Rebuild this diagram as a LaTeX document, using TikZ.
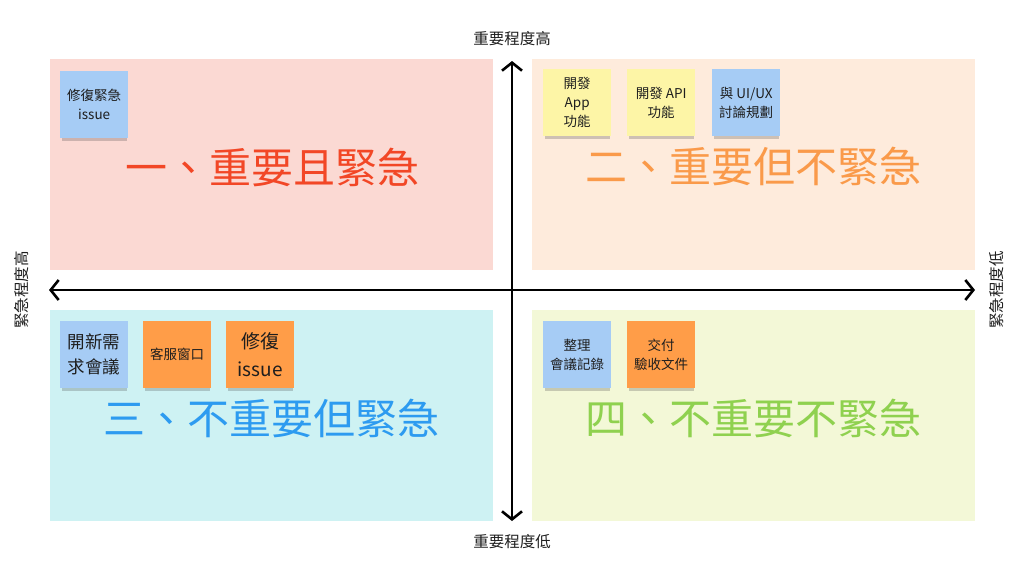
\documentclass[tikz,border=0pt]{standalone}
\usepackage{fontspec}
\setmainfont{Noto Sans CJK TC}
\usetikzlibrary{arrows.meta,shadows}
\definecolor{bgone}{HTML}{FBD9D3}
\definecolor{bgtwo}{HTML}{FEEBDC}
\definecolor{bgthree}{HTML}{CEF2F3}
\definecolor{bgfour}{HTML}{F3F8D7}
\definecolor{tone}{HTML}{F24726}
\definecolor{ttwo}{HTML}{FA9A4A}
\definecolor{tthree}{HTML}{2D9BF0}
\definecolor{tfour}{HTML}{8FD14F}
\definecolor{sblue}{HTML}{A6CCF5}
\definecolor{syellow}{HTML}{FDF5A6}
\definecolor{sorange}{HTML}{FF9D48}
\definecolor{ink}{HTML}{1E1E1E}
\tikzset{
  quad/.style={minimum width=443pt,minimum height=211pt,inner sep=0pt,anchor=north west},
  title/.style={font=\fontsize{42}{46}\selectfont},
  sticky/.style={minimum width=68pt,minimum height=67pt,inner sep=1pt,anchor=north west,
     align=center,text=ink,font=\fontsize{13.5}{19}\selectfont,
     drop shadow={shadow xshift=0pt,shadow yshift=-4pt,shadow scale=0.96,opacity=0.25,fill=black!75}},
  axislabel/.style={text=ink,font=\fontsize{15.5}{17}\selectfont},
  axis/.style={line width=2.6pt,black,{Straight Barb[length=8pt,width=20pt]}-{Straight Barb[length=8pt,width=20pt]}}
}
\begin{document}
\begin{tikzpicture}[x=1pt,y=-1pt]
\useasboundingbox[fill=white] (0,0) rectangle (1024,582);
% quadrants
\node[quad,fill=bgone] (q1) at (50,59) {};
\node[quad,fill=bgtwo] (q2) at (532,59) {};
\node[quad,fill=bgthree] (q3) at (50,310) {};
\node[quad,fill=bgfour] (q4) at (532,310) {};
% titles
\node[title,text=tone] (t1) at (272,167) {一、重要且緊急};
\node[title,text=ttwo] (t2) at (753,166) {二、重要但不緊急};
\node[title,text=tthree] (t3) at (271,418) {三、不重要但緊急};
\node[title,text=tfour] (t4) at (753,418) {四、不重要不緊急};
% axes
\coordinate (top) at (512,61);
\coordinate (bot) at (512,521);
\coordinate (lft) at (49,290);
\coordinate (rgt) at (975,290);
\draw[axis] (bot) -- (top);
\draw[axis] (lft) -- (rgt);
% axis labels
\node[axislabel] (hi) at (512,39) {重要程度高};
\node[axislabel] (lo) at (512,542) {重要程度低};
\node[axislabel,rotate=90] (uh) at (22,290) {緊急程度高};
\node[axislabel,rotate=90] (ul) at (997,290) {緊急程度低};
% stickies
\node[sticky,fill=sblue] (s1) at (60,71) {修復緊急\\issue};
\node[sticky,fill=syellow] (s2) at (543,69) {開發\\App\\功能};
\node[sticky,fill=syellow] (s3) at (627,69) {開發 API\\功能};
\node[sticky,fill=sblue] (s4) at (712,69) {與 UI/UX\\討論規劃};
\node[sticky,fill=sblue,font=\fontsize{17.5}{25}\selectfont] (s5) at (60,321) {開新需\\求會議};
\node[sticky,fill=sorange] (s6) at (143,321) {客服窗口};
\node[sticky,fill=sorange,font=\fontsize{19}{28}\selectfont] (s7) at (226,321) {修復\\issue};
\node[sticky,fill=sblue] (s8) at (543,321) {整理\\會議記錄};
\node[sticky,fill=sorange] (s9) at (627,321) {交付\\驗收文件};
\end{tikzpicture}
\end{document}
